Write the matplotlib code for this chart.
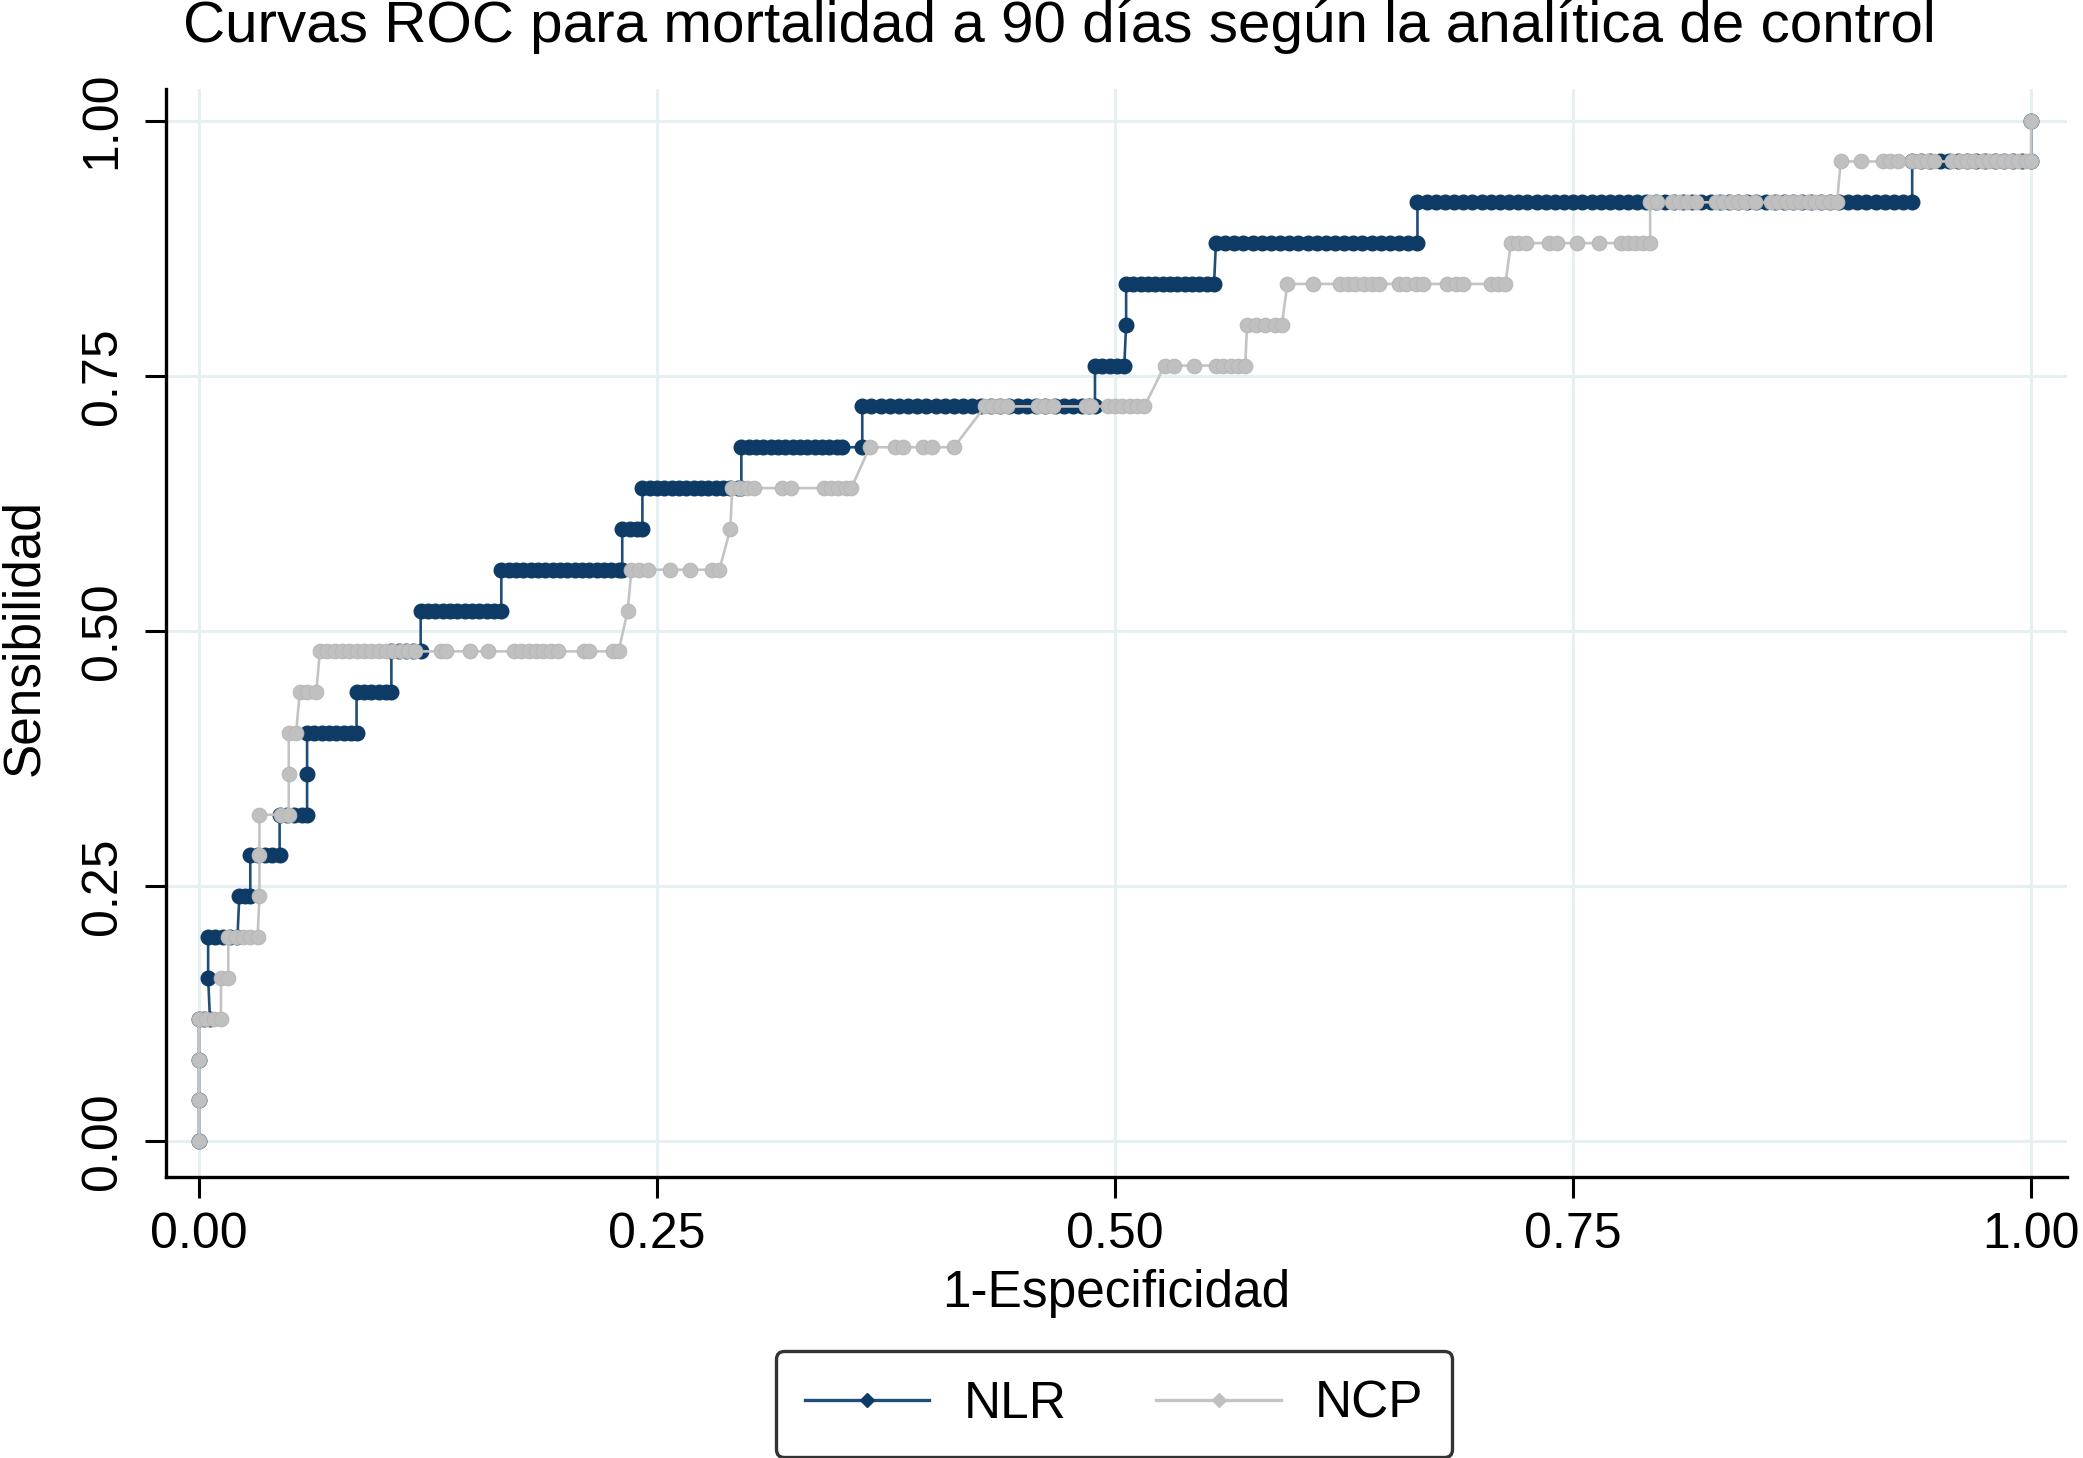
import matplotlib.pyplot as plt
from matplotlib.lines import Line2D

# sensitivity levels (25 positives -> steps of 0.04) and the 1-specificity
# of each plotted cutoff on that level
nlr_levels = [0.00, 0.04, 0.08, 0.12, 0.16, 0.20, 0.24, 0.28, 0.32, 0.36, 0.40, 0.44, 0.48,
              0.52, 0.56, 0.60, 0.64, 0.68, 0.72, 0.76, 0.80, 0.84, 0.88, 0.92, 0.96, 1.00]
nlr_fpr = [
    [0.000],
    [0.000],
    [0.000],
    [0.000, 0.003, 0.006],
    [0.005],
    [0.005, 0.009, 0.013, 0.017, 0.021],
    [0.022, 0.025, 0.028],
    [0.028, 0.032, 0.036, 0.040, 0.044],
    [0.044, 0.048, 0.052, 0.056, 0.059],
    [0.059],
    [0.059, 0.063, 0.067, 0.071, 0.075, 0.079, 0.083, 0.086],
    [0.086, 0.090, 0.094, 0.098, 0.102, 0.105],
    [0.105, 0.109, 0.113, 0.117, 0.121],
    [0.121, 0.125, 0.129, 0.133, 0.137, 0.141, 0.145, 0.149, 0.153, 0.157, 0.161, 0.165],
    [0.165, 0.169, 0.173, 0.177, 0.181, 0.185, 0.189, 0.193, 0.197, 0.201, 0.205, 0.209,
     0.213, 0.217, 0.221, 0.225, 0.229, 0.231],
    [0.231, 0.235, 0.239, 0.242],
    [0.242, 0.246, 0.250, 0.254, 0.258, 0.262, 0.266, 0.270, 0.274, 0.278, 0.282, 0.286,
     0.290, 0.294, 0.296],
    [0.296, 0.300, 0.304, 0.308, 0.312, 0.316, 0.320, 0.324, 0.328, 0.332, 0.336, 0.340,
     0.344, 0.348, 0.351, 0.362],
    [0.362, 0.367, 0.372, 0.377, 0.382, 0.387, 0.392, 0.397, 0.402, 0.407, 0.412, 0.417,
     0.422, 0.427, 0.432, 0.437, 0.442, 0.447, 0.452, 0.457, 0.462, 0.467, 0.472, 0.477,
     0.482, 0.486, 0.489],
    [0.489, 0.493, 0.497, 0.501, 0.505],
    [0.506],
    [0.506, 0.510, 0.514, 0.518, 0.522, 0.526, 0.530, 0.534, 0.538, 0.542, 0.546, 0.550, 0.554],
    [0.555, 0.560, 0.565, 0.570, 0.575, 0.580, 0.585, 0.590, 0.595, 0.600, 0.605, 0.610,
     0.615, 0.620, 0.625, 0.630, 0.635, 0.640, 0.645, 0.650, 0.655, 0.660, 0.665],
    [0.665, 0.670, 0.675, 0.680, 0.685, 0.690, 0.695, 0.700, 0.705, 0.710, 0.715, 0.720,
     0.725, 0.730, 0.735, 0.740, 0.745, 0.750, 0.755, 0.760, 0.765, 0.770, 0.775, 0.780,
     0.785, 0.790, 0.795, 0.800, 0.805, 0.810, 0.815, 0.820, 0.825, 0.830, 0.835, 0.840,
     0.845, 0.850, 0.855, 0.860, 0.865, 0.870, 0.875, 0.880, 0.885, 0.890, 0.895, 0.900,
     0.905, 0.910, 0.915, 0.920, 0.925, 0.930, 0.935],
    [0.935, 0.940, 0.945, 0.950, 0.955, 0.960, 0.965, 0.970, 0.975, 0.980, 0.985, 0.990,
     0.995, 1.000],
    [1.000],
]

ncp_levels = nlr_levels
ncp_fpr = [
    [0.000],
    [0.000],
    [0.000],
    [0.000, 0.004, 0.008, 0.012],
    [0.012, 0.016],
    [0.016, 0.020, 0.024, 0.028, 0.032],
    [0.033],
    [0.033],
    [0.033, 0.045, 0.049],
    [0.049],
    [0.049, 0.053],
    [0.055, 0.059, 0.064],
    [0.066, 0.070, 0.074, 0.078, 0.082, 0.086, 0.090, 0.094, 0.098, 0.102, 0.106, 0.110,
     0.114, 0.118, 0.132, 0.135, 0.148, 0.158, 0.172, 0.176, 0.180, 0.184, 0.188, 0.192,
     0.196, 0.210, 0.213, 0.226, 0.229],
    [0.234],
    [0.236, 0.240, 0.245, 0.257, 0.268, 0.280, 0.284],
    [0.290],
    [0.291, 0.295, 0.299, 0.303, 0.318, 0.323, 0.341, 0.345, 0.349, 0.353, 0.356],
    [0.366, 0.380, 0.384, 0.395, 0.400, 0.412],
    [0.429, 0.433, 0.437, 0.441, 0.458, 0.462, 0.466, 0.484, 0.487, 0.496, 0.500, 0.504,
     0.508, 0.512, 0.516],
    [0.527, 0.532, 0.543, 0.555, 0.559, 0.563, 0.567, 0.571],
    [0.572, 0.577, 0.582, 0.587, 0.591],
    [0.594, 0.608, 0.623, 0.627, 0.631, 0.636, 0.640, 0.644, 0.655, 0.659, 0.664, 0.668,
     0.681, 0.686, 0.690, 0.705, 0.709, 0.713],
    [0.716, 0.720, 0.724, 0.737, 0.741, 0.752, 0.764, 0.776, 0.780, 0.784, 0.788, 0.792],
    [0.792, 0.796, 0.804, 0.808, 0.812, 0.817, 0.828, 0.832, 0.836, 0.840, 0.844, 0.849,
     0.858, 0.862, 0.866, 0.870, 0.874, 0.878, 0.882, 0.886, 0.890, 0.894],
    [0.896, 0.907, 0.919, 0.923, 0.927, 0.935, 0.939, 0.943, 0.947, 0.957, 0.961, 0.965,
     0.969, 0.973, 0.977, 0.981, 0.985, 0.989, 0.993, 0.997, 1.000],
    [1.000],
]

ticks = [0.0, 0.25, 0.5, 0.75, 1.0]
tick_labels = ['0.00', '0.25', '0.50', '0.75', '1.00']
series_names = ['NLR', 'NCP']

title = 'Curvas ROC para mortalidad a 90 días según la analítica de control'
xlab = '1-Especificidad'
ylab = 'Sensibilidad'

BLUE_LINE = '#1f4e78'
BLUE_MARK = '#0e3a66'
GRAY_LINE = '#c4c4c4'
GRAY_MARK = '#c0c0c0'


def flatten(levels, rows):
    xs, ys = [], []
    for s, row in zip(levels, rows):
        for x in row:
            xs.append(x)
            ys.append(s)
    return xs, ys


plt.rcParams['font.family'] = ['Liberation Sans', 'DejaVu Sans']

W, H = 2083, 1458
fig = plt.figure(figsize=(W / 100, H / 100), dpi=100)
ax = fig.add_axes([166 / W, 1 - 1177 / H, (2067 - 166) / W, (1177 - 89) / H])

nx, ny = flatten(nlr_levels, nlr_fpr)
gx, gy = flatten(ncp_levels, ncp_fpr)

ax.plot(nx, ny, color=BLUE_LINE, lw=1.9, marker='o', ms=10.5,
        mfc=BLUE_MARK, mec=BLUE_MARK, zorder=3)
ax.plot(gx, gy, color=GRAY_LINE, lw=1.9, marker='o', ms=10.5,
        mfc=GRAY_MARK, mec='#b8b8b8', mew=0.8, zorder=4)

ax.set_xlim(-0.018, 1.0195)
ax.set_ylim(-0.035, 1.031)
ax.set_xticks(ticks)
ax.set_xticklabels(tick_labels)
ax.set_yticks(ticks)
ax.set_yticklabels(tick_labels, rotation=90, va='center')

for side in ['top', 'right']:
    ax.spines[side].set_visible(False)
for side in ['left', 'bottom']:
    ax.spines[side].set_linewidth(2.4)
    ax.spines[side].set_color('black')

ax.tick_params(axis='both', length=15, width=2.2, labelsize=36, color='black')
ax.tick_params(axis='x', pad=10)
ax.tick_params(axis='y', pad=14)
ax.grid(True, color='#e6eff2', lw=2.2)
ax.set_axisbelow(True)

fig.text(1059 / W, 1 - 27 / H, title, ha='center', va='center', fontsize=42)
fig.text(1116 / W, 1 - 1294 / H, xlab, ha='center', va='center', fontsize=37)
fig.text(25 / W, 1 - 638 / H, ylab, ha='center', va='center', fontsize=37, rotation=90)

handles = [
    Line2D([], [], color=BLUE_LINE, lw=2.4, marker='D', ms=7, mfc=BLUE_MARK, mec=BLUE_MARK),
    Line2D([], [], color=GRAY_LINE, lw=2.4, marker='D', ms=7, mfc=GRAY_MARK, mec=GRAY_MARK),
]
leg = fig.legend(handles, series_names, loc='center', ncol=2,
                 bbox_to_anchor=(1114 / W, 1 - 1404 / H), bbox_transform=fig.transFigure,
                 fontsize=37, handlelength=2.43, handletextpad=0.66, columnspacing=1.75,
                 borderpad=0.55, fancybox=True, framealpha=1)
frame = leg.get_frame()
frame.set_edgecolor('#333333')
frame.set_linewidth(2.4)
frame.set_boxstyle('round', pad=0, rounding_size=0.15)

fig.savefig('out.png', dpi=100)
